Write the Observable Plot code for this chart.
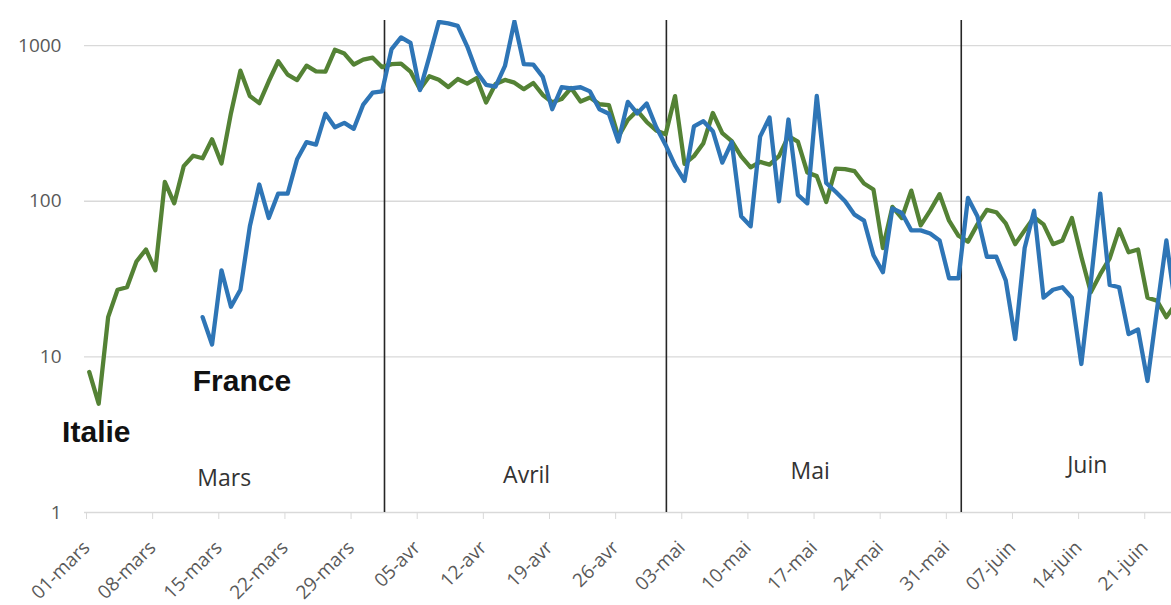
<!DOCTYPE html>
<html>
<head>
<meta charset="utf-8">
<script src="https://cdn.jsdelivr.net/npm/d3@7"></script>
<script src="https://cdn.jsdelivr.net/npm/@observablehq/plot@0.6"></script>
<style>
  html, body { margin: 0; padding: 0; background: #fff; }
  #chart svg { display: block; }
</style>
</head>
<body>
<div id="chart"></div>
<script>
// ---- Data (daily deaths) ----
const italieStart = "2020-03-01";
const italieValues = [
  // mars
  8, 5, 18, 27, 28, 41, 49, 36, 133, 97, 168, 196, 189, 250, 175, 368, 690, 475, 427, 590,
  793, 651, 601, 743, 683, 680, 940, 889, 756, 812, 837,
  // avril
  727, 760, 766, 681, 525, 636, 604, 542, 610, 570, 619, 431, 566, 602, 578, 525, 575, 482, 433, 454,
  534, 437, 464, 420, 415, 260, 333, 382, 323, 285,
  // mai
  269, 474, 174, 195, 236, 369, 274, 243, 194, 165, 179, 172, 195, 262, 242, 153, 145, 99, 162, 161,
  156, 130, 119, 50, 92, 78, 117, 70, 87, 111, 75,
  // juin
  60, 55, 71, 88, 85, 72, 53, 65, 79, 71, 53, 56, 78, 44, 26, 34, 43, 66, 47, 49, 24, 23, 18, 22
];

const franceStart = "2020-03-13";
const franceValues = [
  // mars (13 -> 31)
  18, 12, 36, 21, 27, 69, 128, 78, 112, 112, 186, 240, 231, 365, 299, 319, 292, 418, 499,
  // avril
  509, 950, 1130, 1040, 518, 850, 1420, 1390, 1340, 990, 680, 560, 545, 740, 1430, 760, 755, 630, 390, 540,
  532, 540, 508, 390, 365, 242, 435, 367, 425, 300,
  // mai
  230, 170, 135, 303, 327, 282, 177, 240, 80, 69, 260, 345, 100, 335, 110, 97, 475, 131, 115, 100,
  82, 75, 45, 35, 90, 84, 65, 65, 62, 56, 32,
  // juin
  32, 105, 80, 44, 44, 31, 13, 50, 87, 24, 27, 28, 24, 9, 30, 112, 29, 28, 14, 15, 7, 20, 56, 20
];

// x-axis tick dates and their labels
const tickDates = ["2020-03-01","2020-03-08","2020-03-15","2020-03-22","2020-03-29","2020-04-05","2020-04-12",
  "2020-04-19","2020-04-26","2020-05-03","2020-05-10","2020-05-17","2020-05-24","2020-05-31","2020-06-07",
  "2020-06-14","2020-06-21"];
const tickLabels = ["01-mars","08-mars","15-mars","22-mars","29-mars","05-avr","12-avr","19-avr","26-avr",
  "03-mai","10-mai","17-mai","24-mai","31-mai","07-juin","14-juin","21-juin"];

// y-axis ticks
const yTicks = [1, 10, 100, 1000];

// month separators and month names
const monthRules = ["2020-04-01T18:00Z", "2020-05-01T14:00Z", "2020-06-01T19:00Z"];
const monthNames = ["Mars", "Avril", "Mai", "Juin"];
const monthNameDates = ["2020-03-15T19:00Z", "2020-04-16T19:00Z", "2020-05-16T19:00Z", "2020-06-15T03:00Z"];
const monthNameValues = [1.66, 1.73, 1.83, 2.0];

// series labels
const seriesNames = ["Italie", "France"];
const seriesLabelDates = ["2020-03-02T06:00Z", "2020-03-17T16:00Z"];
const seriesLabelValues = [3.27, 6.96];

// ---- build tables ----
const DAY = 24 * 3600 * 1000;
function series(start, values) {
  const t0 = new Date(start + "T12:00Z").getTime();
  return values.map((v, i) => ({date: new Date(t0 + i * DAY), value: v}));
}
const italie = series(italieStart, italieValues);
const france = series(franceStart, franceValues);
const ticks = tickDates.map(d => new Date(d + "T00:00Z"));
const labelOf = new Map(ticks.map((d, i) => [+d, tickLabels[i]]));
const months = monthNames.map((m, i) => ({name: m, date: new Date(monthNameDates[i]), value: monthNameValues[i]}));
const seriesLabels = seriesNames.map((s, i) => ({name: s, date: new Date(seriesLabelDates[i]), value: seriesLabelValues[i]}));
const yTop = 1450;

const chart = Plot.plot({
  width: 1171,
  height: 605,
  marginLeft: 84,
  marginRight: 0,
  marginTop: 20,
  marginBottom: 93,
  style: {fontFamily: "'Open Sans', sans-serif", background: "#fff"},
  x: {type: "utc", domain: [new Date("2020-03-01T00:00Z"), new Date("2020-06-24T01:00Z")]},
  y: {type: "log", domain: [1, yTop]},
  marks: [
    Plot.gridY(yTicks, {stroke: "#d9d9d9", strokeOpacity: 1, strokeWidth: 1.3}),
    Plot.axisY(yTicks, {tickSize: 0, tickPadding: 23, label: null, tickFormat: d => String(d), fontSize: 19, fill: "#595959"}),
    Plot.axisX(ticks, {tickSize: 7, tickPadding: 25, tickRotate: -45, label: null, tickFormat: d => labelOf.get(+d),
      fontSize: 19, fill: "#595959", stroke: "#d9d9d9", dx: 2}),
    Plot.ruleX(monthRules, {x: d => new Date(d), y1: 1, y2: yTop, stroke: "#262626", strokeWidth: 1.6}),
    Plot.line(italie, {x: "date", y: "value", stroke: "#548235", strokeWidth: 4.3, strokeLinejoin: "round", clip: true}),
    Plot.line(france, {x: "date", y: "value", stroke: "#2E75B6", strokeWidth: 4.3, strokeLinejoin: "round", clip: true}),
    Plot.text(months, {x: "date", y: "value", text: "name", fontSize: 23, fill: "#333"}),
    Plot.text(seriesLabels, {x: "date", y: "value", text: "name", fontSize: 30, fontWeight: "bold",
      fontFamily: "'Liberation Sans', Arial, sans-serif", fill: "#111"})
  ]
});
document.getElementById("chart").appendChild(chart);
</script>
</body>
</html>
